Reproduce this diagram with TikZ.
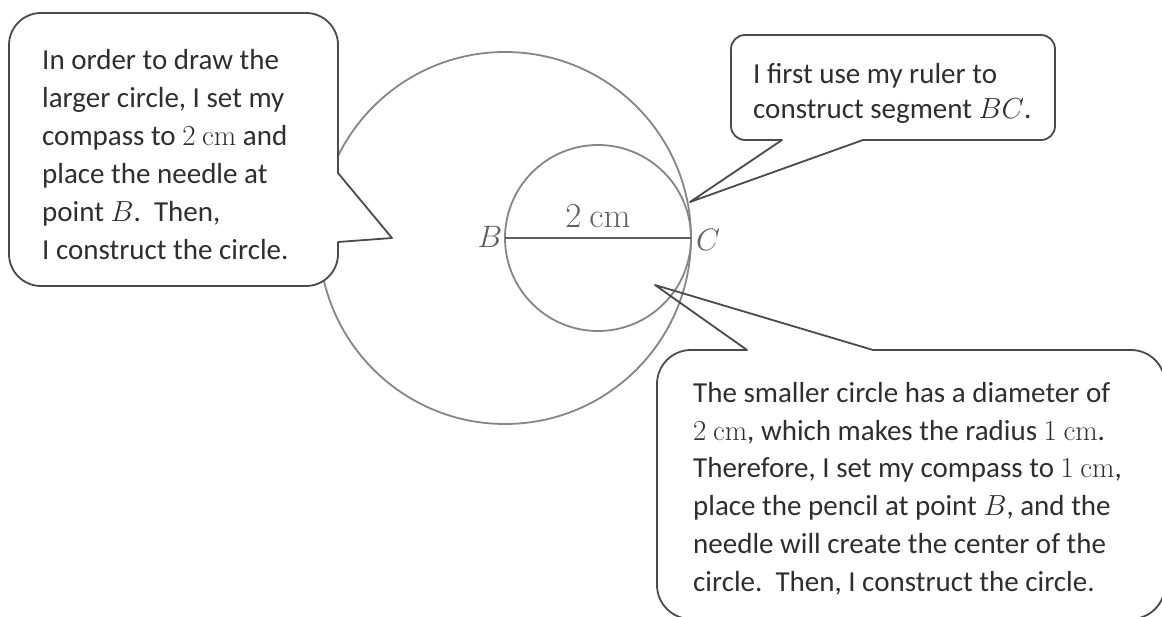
\RequirePackage{fix-cm}
\documentclass[tikz,border=0pt]{standalone}
\usepackage[no-math]{fontspec}
\setmainfont{Carlito}
\definecolor{bubblecol}{HTML}{4A4A4A}
\definecolor{circcol}{HTML}{858585}
\definecolor{segcol}{HTML}{5E5E5E}
\definecolor{textcol}{HTML}{2E2E2E}
\definecolor{lblcol}{HTML}{606060}
\begin{document}
\begin{tikzpicture}[x=1pt,y=-1pt,
  bubble/.style={draw=bubblecol, line width=1.8pt, line join=round},
  circ/.style={draw=circcol, line width=1.8pt},
  seg/.style={draw=segcol, line width=2.2pt},
  txt/.style={font=\fontsize{29}{37.8}\selectfont, text=textcol, align=left, inner sep=0pt, anchor=north west},
  lbl/.style={font=\fontsize{31}{34}\selectfont, text=lblcol, inner sep=0pt},
]
\useasboundingbox (0,0) rectangle (1162,617);
\coordinate (B) at (505,238);
\coordinate (C) at (691,238);
\coordinate (M) at (598,238);
% circles and segment
\draw[circ] (B) circle[radius=186];
\draw[circ] (M) circle[radius=93];
\draw[seg] (B) -- (C);
\node[lbl] (lB) at (490,237) {$B$};
\node[lbl] (lC) at (708,240) {$C$};
\node[lbl, font=\fontsize{35}{38}\selectfont] (len) at (598,216) {$2\ \mathrm{cm}$};
% left bubble
\path[bubble, fill=white] (338,242) -- (338,254) arc[start angle=0, end angle=90, radius=32]
  -- (41,286) arc[start angle=90, end angle=180, radius=32]
  -- (9,45) arc[start angle=180, end angle=270, radius=32]
  -- (306,13) arc[start angle=270, end angle=360, radius=32]
  -- (338,173) -- (392,238) -- cycle;
\node[txt, font=\fontsize{29}{38}\selectfont] (t1) at (42,49) {In order to draw the\\larger circle, I set my\\compass to $2\ \mathrm{cm}$ and\\place the needle at\\point $B$.\ \ Then,\\I construct the circle.};
% top right bubble
\path[bubble] (863,140) -- (1041,140) arc[start angle=90, end angle=0, radius=14]
  -- (1055,49) arc[start angle=0, end angle=-90, radius=14]
  -- (745,35) arc[start angle=-90, end angle=-180, radius=14]
  -- (731,126) arc[start angle=180, end angle=90, radius=14]
  -- (782,140) -- (690,202) -- cycle;
\node[txt, font=\fontsize{29}{35}\selectfont] (t2) at (753,63) {I first use my ruler to\\construct segment $BC$.};
% bottom right bubble
\path[bubble] (873,350) -- (1131,350) arc[start angle=-90, end angle=0, radius=34]
  -- (1165,585) arc[start angle=0, end angle=90, radius=34]
  -- (691,619) arc[start angle=90, end angle=180, radius=34]
  -- (657,384) arc[start angle=180, end angle=270, radius=34]
  -- (747,350) -- (655,285) -- cycle;
\node[txt] (t3) at (693,382) {The smaller circle has a diameter of\\$2\ \mathrm{cm}$, which makes the radius $1\ \mathrm{cm}$.\\Therefore, I set my compass to $1\ \mathrm{cm}$,\\place the pencil at point $B$, and the\\needle will create the center of the\\circle.\ \ Then, I construct the circle.};
\end{tikzpicture}
\end{document}
